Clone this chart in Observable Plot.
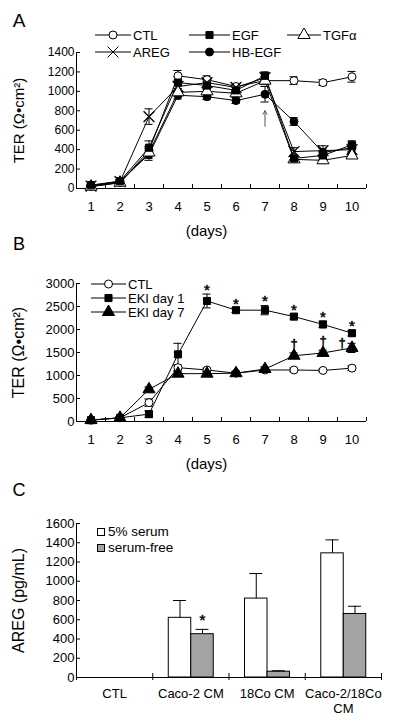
<!DOCTYPE html>
<html><head><meta charset="utf-8">
<script src="https://cdn.jsdelivr.net/npm/d3@7"></script>
<script src="https://cdn.jsdelivr.net/npm/@observablehq/plot@0.6"></script>
<style>
body{margin:0;background:#fff;font-family:"Liberation Sans",Arial,sans-serif;color:#000}
#wrap{position:relative;width:400px;height:724px;overflow:hidden;background:#fff}
.panel{position:absolute;left:0}
svg text{-webkit-font-smoothing:antialiased}
.leg{position:absolute;display:flex;align-items:center;white-space:nowrap;line-height:1;height:16px}
</style></head><body><div id="wrap"></div>
<script>
// ---------- DATA ----------
const days = [1, 2, 3, 4, 5, 6, 7, 8, 9, 10];

// Panel A: TER (Ω•cm²)
const seriesA = ["CTL", "EGF", "TGFα", "AREG", "HB-EGF"];
const ctlA   = [20, 60, 390, 1160, 1120, 1050, 1110, 1110, 1090, 1150];
const egfA   = [35, 75, 420, 1090, 1060, 1010, 1160, 310, 340, 450];
const tgfA   = [20, 60, 370, 990, 1000, 980, 1110, 300, 290, 340];
const aregA  = [25, 70, 740, 1050, 1090, 1040, 1140, 380, 390, 400];
const hbegfA = [30, 75, 350, 960, 945, 905, 970, 690, 370, 420];
const ctlAErr   = [8, 15, 40, 55, 40, 30, 40, 40, 30, 55];
const egfAErr   = [10, 15, 70, 60, 40, 30, 40, 30, 40, 40];
const tgfAErr   = [8, 15, 60, 40, 30, 30, 40, 30, 30, 30];
const aregAErr  = [8, 15, 80, 40, 40, 30, 40, 40, 50, 40];
const hbegfAErr = [10, 15, 60, 40, 30, 30, 80, 40, 40, 40];
const yTicksA = [0, 200, 400, 600, 800, 1000, 1200, 1400];
const arrowA = [{day: 7, from: 640, to: 800}];

// Panel B
const seriesB = ["CTL", "EKI day 1", "EKI day 7"];
const ctlB  = [30, 80, 410, 1170, 1120, 1050, 1120, 1120, 1110, 1160];
const eki1B = [30, 80, 160, 1460, 2620, 2420, 2420, 2280, 2110, 1920];
const eki7B = [30, 80, 700, 1040, 1040, 1050, 1140, 1430, 1490, 1600];
const ctlBErr  = [10, 15, 80, 60, 40, 40, 40, 40, 30, 50];
const eki1BErr = [10, 20, 70, 240, 150, 50, 100, 50, 70, 60];
const eki7BErr = [10, 20, 50, 50, 40, 40, 50, 60, 60, 100];
const yTicksB = [0, 500, 1000, 1500, 2000, 2500, 3000];
const starDaysB = [5, 6, 7, 8, 9, 10];
const daggerDaysB = [8, 9, 10];

// Panel C
const groupsC = ["CTL", "Caco-2 CM", "18Co CM", "Caco-2/18Co\nCM"];
const seriesC = ["5% serum", "serum-free"];
const serumC    = [0, 620, 820, 1290];
const serumErrC = [0, 180, 260, 140];
const freeC     = [0, 450, 60, 660];
const freeErrC  = [0, 50, 10, 80];
const yTicksC = [0, 200, 400, 600, 800, 1000, 1200, 1400, 1600];
const starGroupsC = [1];

// ---------- HELPERS ----------
const FONT = "Liberation Sans, Arial, sans-serif";
const wrap = document.getElementById("wrap");
const style = {fontFamily: FONT, fontSize: "12px", color: "#000", background: "#fff", overflow: "visible"};
const plain = d => String(d);
const centered = {textAnchor: "middle", lineAnchor: "middle"};

function toRows(names, vals, errs) {
  return names.flatMap((name, i) => days.map((d, j) => ({series: name, day: d, value: vals[i][j], err: errs[i][j]})));
}

function seriesMarks(rows, styles) {
  const cap = 0.14;
  const lines = [], errs = [], dots = [];
  for (const s of styles) {
    const data = rows.filter(d => d.series === s.name);
    lines.push(Plot.line(data, {x: "day", y: "value", stroke: "#000", strokeWidth: 1}));
    errs.push(Plot.ruleX(data, {x: "day", y1: d => d.value - d.err, y2: d => d.value + d.err, stroke: "#000", strokeWidth: 1}));
    errs.push(Plot.ruleY(data, {y: d => d.value + d.err, x1: d => d.day - cap, x2: d => d.day + cap, stroke: "#000", strokeWidth: 1}));
    errs.push(Plot.ruleY(data, {y: d => d.value - d.err, x1: d => d.day - cap, x2: d => d.day + cap, stroke: "#000", strokeWidth: 1}));
  }
  for (const s of [...styles].reverse()) {
    const data = rows.filter(d => d.series === s.name);
    dots.push(Plot.dot(data, {x: "day", y: "value", symbol: s.symbol, r: s.r, fill: s.fill, stroke: "#000", strokeWidth: s.sw || 1}));
  }
  return [...lines, ...errs, ...dots];
}

function lineAxes(yTicks, fontSize) {
  const bounds = [0.5, ...days.map(d => d + 0.5)];
  return [
    Plot.ruleX([0.5], {stroke: "#000"}),
    Plot.ruleY([0], {stroke: "#000"}),
    Plot.axisY({ticks: yTicks, tickFormat: plain, tickSize: -4, tickPadding: 6, label: null, fontSize}),
    Plot.axisX({ticks: days, tickFormat: plain, tickSize: 0, tickPadding: 13, label: null, fontSize: 13}),
    Plot.axisX({ticks: bounds, tickSize: -4, tickFormat: () => "", label: null})
  ];
}

function place(svg, top) {
  svg.classList.add("panel");
  svg.style.top = top + "px";
  wrap.appendChild(svg);
}

function legendItem(left, cy, w, type, r, fill, label, fontSize) {
  const div = document.createElement("div");
  div.className = "leg";
  div.style.left = left + "px";
  div.style.top = (cy - 8) + "px";
  div.style.fontSize = fontSize + "px";
  const d = d3.symbol(type, Math.PI * r * r)();
  div.innerHTML = `<svg width="${w}" height="16" style="overflow:visible"><line x1="0" x2="${w}" y1="8" y2="8" stroke="#000"/><path transform="translate(${w / 2},8)" d="${d}" fill="${fill}" stroke="#000"/></svg><span style="margin-left:2px">${label}</span>`;
  wrap.appendChild(div);
}

function boxLegend(left, cy, fill, label, fontSize) {
  const div = document.createElement("div");
  div.className = "leg";
  div.style.left = left + "px";
  div.style.top = (cy - 8) + "px";
  div.style.fontSize = fontSize + "px";
  div.innerHTML = `<svg width="8" height="16"><rect x="0.5" y="4.5" width="7" height="7" fill="${fill}" stroke="#000"/></svg><span style="margin-left:3px">${label}</span>`;
  wrap.appendChild(div);
}

const markText = {fill: "#000", stroke: "#000", strokeWidth: 0.5};

// ---------- PANEL A ----------
const rowsA = toRows(seriesA, [ctlA, egfA, tgfA, aregA, hbegfA], [ctlAErr, egfAErr, tgfAErr, aregAErr, hbegfAErr]);
const stylesA = [
  {name: "CTL", symbol: "circle", r: 4, fill: "#fff"},
  {name: "EGF", symbol: "square", r: 4, fill: "#000"},
  {name: "TGFα", symbol: "triangle", r: 4.5, fill: "#fff"},
  {name: "AREG", symbol: "times", r: 5, fill: "none", sw: 1.3},
  {name: "HB-EGF", symbol: "circle", r: 4, fill: "#000"}
];
const plotA = Plot.plot({
  width: 400, height: 240, marginLeft: 76, marginRight: 34, marginTop: 52, marginBottom: 52,
  x: {domain: [0.5, 10.5]}, y: {domain: [0, 1400]}, style,
  marks: [
    ...lineAxes(yTicksA, 12),
    ...seriesMarks(rowsA, [stylesA[1], stylesA[2], stylesA[3], stylesA[4], stylesA[0]]),
    Plot.arrow(arrowA, {x1: "day", x2: "day", y1: "from", y2: "to", stroke: "#555", strokeWidth: 1, headLength: 6}),
    Plot.text(["TER (Ω•cm²)"], {text: d => d, frameAnchor: "left", rotate: -90, dx: -57, fontSize: 15, ...centered}),
    Plot.text(["(days)"], {text: d => d, frameAnchor: "bottom", dx: -15, dy: 43, fontSize: 15, ...centered}),
    Plot.text(["A"], {text: d => d, frameAnchor: "top-left", dx: -57.5, dy: -32, fontSize: 19, ...centered})
  ]
});
place(plotA, 0);
legendItem(95, 35, 36, d3.symbolCircle, 4, "#fff", "CTL", 13);
legendItem(189, 35, 41, d3.symbolSquare, 4, "#000", "EGF", 13);
legendItem(287, 35, 34, d3.symbolTriangle, 4.5, "#fff", "TGFα", 13);
legendItem(95, 52, 36, d3.symbolTimes, 5, "none", "AREG", 13);
legendItem(189, 52, 41, d3.symbolCircle, 4, "#000", "HB-EGF", 13);

// ---------- PANEL B ----------
const rowsB = toRows(seriesB, [ctlB, eki1B, eki7B], [ctlBErr, eki1BErr, eki7BErr]);
const stylesB = [
  {name: "CTL", symbol: "circle", r: 4, fill: "#fff"},
  {name: "EKI day 1", symbol: "square", r: 4, fill: "#000"},
  {name: "EKI day 7", symbol: "triangle", r: 4.5, fill: "#000"}
];
const starRowsB = starDaysB.map(d => ({day: d, y: eki1B[d - 1] + eki1BErr[d - 1]}));
const daggerRowsB = daggerDaysB.map(d => ({day: d, y: eki7B[d - 1] + eki7BErr[d - 1]}));
const plotB = Plot.plot({
  width: 400, height: 235, marginLeft: 76, marginRight: 34, marginTop: 43, marginBottom: 54,
  x: {domain: [0.5, 10.5]}, y: {domain: [0, 3000]}, style,
  marks: [
    ...lineAxes(yTicksB, 13),
    ...seriesMarks(rowsB, [stylesB[1], stylesB[2], stylesB[0]]),
    Plot.text(starRowsB, {x: "day", y: "y", text: () => "*", fontSize: 15, dy: -4, ...markText}),
    Plot.text(daggerRowsB.filter(d => d.day < 10), {x: "day", y: "y", text: () => "†", fontSize: 13, dy: -9, ...markText}),
    Plot.text(daggerRowsB.filter(d => d.day === 10), {x: "day", y: "y", text: () => "†", fontSize: 13, dx: -10, dy: 0, ...markText}),
    Plot.text(["TER (Ω•cm²)"], {text: d => d, frameAnchor: "left", rotate: -90, dx: -58, fontSize: 16, ...centered}),
    Plot.text(["(days)"], {text: d => d, frameAnchor: "bottom", dx: -15, dy: 43, fontSize: 15, ...centered}),
    Plot.text(["B"], {text: d => d, frameAnchor: "top-left", dx: -57.5, dy: -39, fontSize: 18, ...centered})
  ]
});
place(plotB, 240);
legendItem(91, 284, 35, d3.symbolCircle, 4, "#fff", "CTL", 13);
legendItem(91, 298, 35, d3.symbolSquare, 4, "#000", "EKI day 1", 13);
legendItem(91, 312, 35, d3.symbolTriangle, 4.5, "#000", "EKI day 7", 13);

// ---------- PANEL C ----------
const rowsC = groupsC.flatMap((g, i) => [
  {i, series: seriesC[0], value: serumC[i], err: serumErrC[i]},
  {i, series: seriesC[1], value: freeC[i], err: freeErrC[i]}
]);
const barLeft = d => d.i + (d.series === seriesC[0] ? 0.21 : 0.505);
const barRight = d => d.i + (d.series === seriesC[0] ? 0.505 : 0.8);
const barMid = d => (barLeft(d) + barRight(d)) / 2;
const errRowsC = rowsC.filter(d => d.err > 0);
const capC = 0.085;
const plotC = Plot.plot({
  width: 400, height: 249, marginLeft: 76, marginRight: 19, marginTop: 48, marginBottom: 47,
  x: {domain: [0, 4]}, y: {domain: [0, 1600]}, style,
  marks: [
    Plot.rectY(rowsC.filter(d => d.value > 0), {x1: barLeft, x2: barRight, y: "value", fill: d => d.series === seriesC[0] ? "#fff" : "#a3a3a3", stroke: "#000", strokeWidth: 1}),
    Plot.ruleX(errRowsC, {x: barMid, y1: "value", y2: d => d.value + d.err, stroke: "#000"}),
    Plot.ruleY(errRowsC, {y: d => d.value + d.err, x1: d => barMid(d) - capC, x2: d => barMid(d) + capC, stroke: "#000"}),
    Plot.ruleX([0], {stroke: "#000"}),
    Plot.ruleY([0], {stroke: "#000"}),
    Plot.axisY({ticks: yTicksC, tickFormat: plain, tickSize: -4, tickPadding: 6, label: null, fontSize: 13}),
    Plot.axisX({ticks: groupsC.map((g, i) => i + 0.5), tickFormat: v => groupsC[Math.floor(v)], tickSize: 0, tickPadding: 9, label: null, fontSize: 13, lineHeight: 1.2}),
    Plot.axisX({ticks: [0, 1, 2, 3, 4], tickSize: -4, tickFormat: () => "", label: null}),
    Plot.axisX({ticks: [0, 1, 2, 3, 4], tickSize: 3, tickFormat: () => "", label: null}),
    Plot.text(starGroupsC, {x: i => barMid({i, series: seriesC[1]}), y: i => freeC[i] + freeErrC[i], text: () => "*", fontSize: 15, dy: -9, ...markText}),
    Plot.text(["AREG (pg/mL)"], {text: d => d, frameAnchor: "left", rotate: -90, dx: -58, fontSize: 16, ...centered}),
    Plot.text(["C"], {text: d => d, frameAnchor: "top-left", dx: -57.5, dy: -33, fontSize: 18, ...centered})
  ]
});
place(plotC, 475);
boxLegend(97, 532, "#fff", "5% serum", 13.5);
boxLegend(97, 548, "#a3a3a3", "serum-free", 13.5);
</script>
</body></html>
